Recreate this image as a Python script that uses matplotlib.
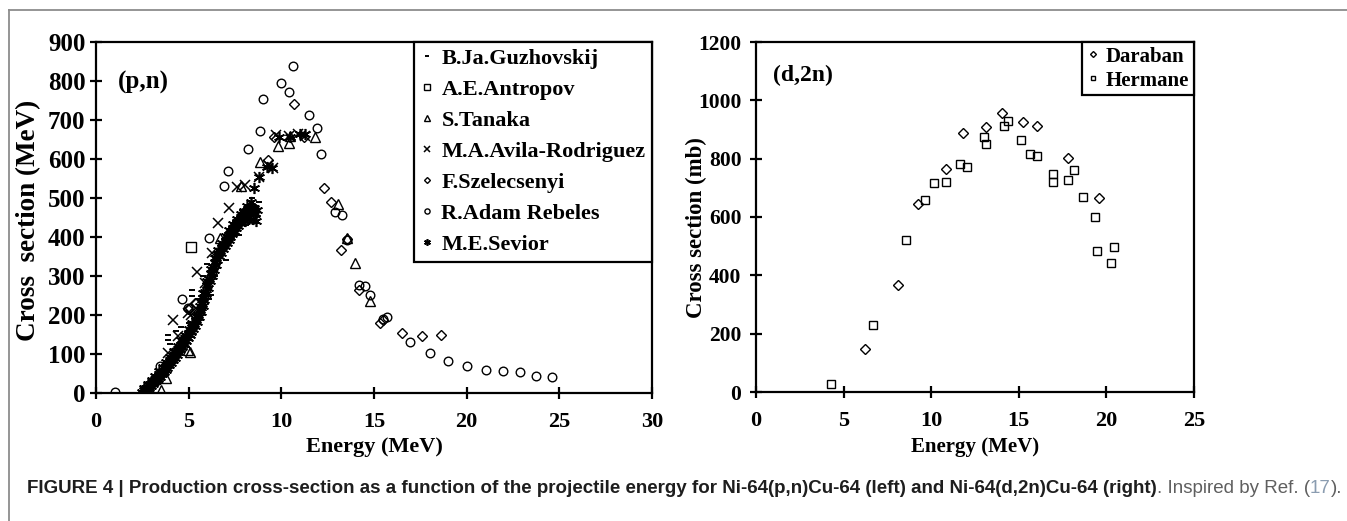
import matplotlib
matplotlib.use("Agg")
import matplotlib.pyplot as plt
from matplotlib import font_manager
from matplotlib.lines import Line2D

# ---------------- data: left panel, Ni-64(p,n)Cu-64 ----------------
guzhovskij_E = [3.2, 3.5, 3.9, 3.9, 4.0, 4.3, 4.6, 5.0, 5.2, 5.2, 5.5, 5.8, 6.0, 6.1, 6.2, 6.4,
                6.6, 6.8, 7.0, 7.2, 7.5, 7.7, 7.9, 8.1, 8.2, 8.4, 8.6, 8.8]
guzhovskij_S = [20, 45, 150, 137, 125, 160, 170, 180, 265, 250, 240, 300, 330, 240, 252, 300,
                350, 385, 340, 420, 440, 405, 470, 430, 445, 500, 435, 490]

antropov_E = [5.15]
antropov_S = [375]

tanaka_E = [3.5, 3.8, 4.97, 5.07, 6.7, 7.8, 8.2, 8.85, 9.8, 10.4, 10.45, 11.8, 13.05, 13.55, 14.0, 14.8]
tanaka_S = [8, 38, 110, 105, 397, 530, 451, 592, 634, 641, 660, 657, 485, 398, 333, 236]

avila_E = [3.9, 4.15, 4.45, 4.95, 5.15, 5.45, 5.9, 6.25, 6.6, 7.2, 7.6, 8.05, 8.8, 9.3, 9.55, 9.7,
           10.4, 10.9, 11.3]
avila_S = [102, 187, 145, 205, 200, 310, 281, 359, 437, 474, 529, 533, 555, 585, 576, 662,
           660, 665, 660]

szelecsenyi_E = [4.97, 5.07, 5.35, 5.4, 9.3, 9.6, 10.7, 11.2, 12.3, 12.7, 13.2, 13.55, 14.2, 15.3,
                 15.5, 16.5, 17.6, 18.6]
szelecsenyi_S = [215, 218, 230, 231, 597, 657, 741, 657, 525, 490, 366, 395, 264, 180,
                 187, 153, 146, 150]

rebeles_E = [1.0, 3.45, 4.65, 4.95, 6.1, 6.9, 7.1, 8.2, 8.85, 9.0, 10.0, 10.4, 10.65, 11.5, 11.9,
             12.15, 12.9, 13.3, 13.55, 14.2, 14.5, 14.8, 15.5, 15.7, 16.95, 18.0, 19.0, 20.0,
             21.05, 21.95, 22.9, 23.75, 24.6]
rebeles_S = [2, 69, 241, 218, 398, 530, 570, 626, 671, 753, 794, 772, 838, 713, 679,
             612, 464, 456, 392, 277, 274, 251, 189, 195, 131, 102, 82, 69,
             59, 57, 53, 44, 40]

sevior_E = [2.5, 2.55, 2.6, 2.65, 2.7, 2.75, 2.8, 2.85, 2.9, 2.95, 3.0, 3.05, 3.1, 3.15, 3.2,
            3.25, 3.3, 3.35, 3.4, 3.45, 3.5, 3.55, 3.6, 3.65, 3.7, 3.75, 3.8, 3.85, 3.9, 3.95,
            4.0, 4.05, 4.1, 4.15, 4.2, 4.25, 4.3, 4.35, 4.4, 4.45, 4.5, 4.55, 4.6, 4.65, 4.7,
            4.75, 4.8, 4.85, 4.9, 4.95, 5.0, 5.05, 5.1, 5.15, 5.2, 5.25, 5.3, 5.35, 5.4, 5.45,
            5.5, 5.55, 5.6, 5.65, 5.7, 5.75, 5.8, 5.85, 5.9, 5.95, 6.0, 6.05, 6.1, 6.15, 6.2,
            6.25, 6.3, 6.35, 6.4, 6.45, 6.5, 6.55, 6.6, 6.65, 6.7, 6.75, 6.8, 6.85, 6.9, 6.95,
            7.0, 7.05, 7.1, 7.15, 7.2, 7.25, 7.3, 7.35, 7.4, 7.45, 7.5, 7.55, 7.6, 7.65, 7.7,
            7.75, 7.8, 7.85, 7.9, 7.95, 8.0, 8.05, 8.1, 8.15, 8.2, 8.25, 8.3, 8.35, 8.4, 8.45,
            8.5, 8.55, 8.6, 8.65, 8.7,
            2.6, 2.8, 3.0, 3.2, 3.4, 3.6, 3.8, 4.0, 4.2, 4.4, 4.6, 4.8, 5.0, 5.2, 5.4, 5.6,
            5.8, 6.0, 6.2, 6.4, 6.6, 6.8, 7.0, 7.2, 7.4, 7.6, 7.8, 8.0, 8.2, 8.4, 8.6,
            8.5, 8.8, 9.2, 9.5, 9.9, 10.45, 11.0, 11.3]
sevior_S = [2, 0, 8, 4, 12, 9, 16, 13, 22, 18, 26, 22, 30, 27, 35,
            31, 40, 37, 46, 42, 52, 48, 57, 54, 63, 59, 69, 65, 75, 71,
            81, 77, 88, 84, 95, 91, 102, 98, 109, 105, 116, 112, 123, 119, 130,
            126, 137, 133, 144, 140, 152, 148, 160, 156, 168, 164, 177, 173, 187, 183,
            199, 194, 213, 207, 228, 222, 244, 238, 260, 254, 276, 270, 292, 286, 307,
            301, 322, 316, 335, 329, 347, 341, 357, 351, 365, 360, 374, 368, 382, 377,
            390, 385, 398, 393, 406, 400, 413, 408, 420, 415, 427, 422, 434, 429, 442,
            437, 449, 444, 455, 450, 460, 441, 464, 480, 467, 452, 470, 490, 472, 445,
            468, 475, 458, 440, 470,
            14, 24, 34, 43, 56, 66, 80, 92, 107, 121, 135, 149, 164, 180, 198, 222,
            256, 288, 318, 345, 366, 385, 402, 418, 433, 447, 459, 466, 471, 474, 462,
            525, 554, 580, 577, 657, 657, 664, 664]

# ---------------- data: right panel, Ni-64(d,2n)Cu-64 ----------------
daraban_E = [6.22, 8.1, 9.25, 10.85, 11.8, 13.1, 14.05, 15.25, 16.05, 17.8, 19.6]
daraban_S = [147, 367, 645, 764, 887, 908, 958, 926, 912, 802, 666]

hermane_E = [4.27, 6.68, 8.55, 9.66, 10.16, 10.86, 11.65, 12.03, 13.04, 13.15, 14.14, 14.37,
             15.15, 15.65, 16.05, 16.98, 16.98, 17.83, 18.14, 18.66, 19.35, 19.45, 20.27, 20.45]
hermane_S = [28, 230, 521, 658, 716, 720, 782, 771, 874, 850, 912, 928,
             864, 817, 808, 747, 720, 726, 761, 668, 601, 482, 441, 496]

left_xticks = [0, 5, 10, 15, 20, 25, 30]
left_yticks = [0, 100, 200, 300, 400, 500, 600, 700, 800, 900]
right_xticks = [0, 5, 10, 15, 20, 25]
right_yticks = [0, 200, 400, 600, 800, 1000, 1200]

# ---------------- figure ----------------
W, H = 1347, 521
fig = plt.figure(figsize=(W / 100, H / 100), dpi=100)
fig.patch.set_facecolor("white")

SERIF = "Liberation Serif"


def px_axes(x0, x1, y_top, y_bot):
    return fig.add_axes([x0 / W, 1 - y_bot / H, (x1 - x0) / W, (y_bot - y_top) / H])


axL = px_axes(96, 652, 42, 393)
axR = px_axes(756, 1194, 42, 392)

for ax in (axL, axR):
    for sp in ax.spines.values():
        sp.set_linewidth(1.6)
        sp.set_color("black")
    ax.tick_params(direction="inout", length=9, width=1.6, colors="black")

mk = dict(linestyle="none", markerfacecolor="none", markeredgecolor="black", color="black")

axL.plot(guzhovskij_E, guzhovskij_S, marker="_", markersize=4.5, markeredgewidth=1.4,
         label="B.Ja.Guzhovskij", **mk)
axL.plot(antropov_E, antropov_S, marker="s", markersize=6.5, markeredgewidth=1.0,
         label="A.E.Antropov", **mk)
axL.plot(tanaka_E, tanaka_S, marker="^", markersize=6.5, markeredgewidth=1.0,
         label="S.Tanaka", **mk)
axL.plot(avila_E, avila_S, marker="x", markersize=7.5, markeredgewidth=1.1,
         label="M.A.Avila-Rodriguez", **mk)
axL.plot(szelecsenyi_E, szelecsenyi_S, marker="D", markersize=5, markeredgewidth=1.0,
         label="F.Szelecsenyi", **mk)
axL.plot(rebeles_E, rebeles_S, marker="o", markersize=6.2, markeredgewidth=1.0,
         label="R.Adam Rebeles", **mk)
axL.plot(sevior_E, sevior_S, marker=(6, 2, 0), markersize=8, markeredgewidth=1.2,
         label="M.E.Sevior", **mk)

axR.plot(daraban_E, daraban_S, marker="D", markersize=5, markeredgewidth=1.0,
         label="Daraban", **mk)
axR.plot(hermane_E, hermane_S, marker="s", markersize=6, markeredgewidth=1.0,
         label="Hermane", **mk)

# ---- left axis formatting ----
axL.set_xlim(0, 30)
axL.set_ylim(0, 900)
axL.set_xticks(left_xticks)
axL.set_yticks(left_yticks)
axL.set_xticklabels([str(v) for v in left_xticks], fontfamily=SERIF, fontweight="bold", fontsize=16)
axL.set_yticklabels([str(v) for v in left_yticks], fontfamily=SERIF, fontweight="bold", fontsize=18)
axL.tick_params(axis="x", pad=9)
axL.tick_params(axis="y", pad=3)
axL.set_xlabel("Energy (MeV)", fontfamily=SERIF, fontweight="bold", fontsize=16, va="center")
axL.xaxis.set_label_coords(0.5, -0.154)
axL.set_ylabel("Cross  section (MeV)", fontfamily=SERIF, fontweight="bold", fontsize=19.5, va="center")
axL.yaxis.set_label_coords(-0.122, 0.493)
axL.text(0.085, 0.886, "(p,n)", transform=axL.transAxes, ha="center", va="center",
         fontfamily=SERIF, fontweight="bold", fontsize=18)

legL = axL.legend(loc="upper right", bbox_to_anchor=(1.0, 1.0), borderaxespad=0.0,
                  prop=font_manager.FontProperties(family=SERIF, weight="bold", size=16),
                  markerscale=0.6, handlelength=0.6, handletextpad=0.35, labelspacing=0.47,
                  borderpad=0.3, fancybox=False, framealpha=1.0, edgecolor="black")
legL.get_frame().set_linewidth(1.6)

# ---- right axis formatting ----
axR.set_xlim(0, 25)
axR.set_ylim(0, 1200)
axR.set_xticks(right_xticks)
axR.set_yticks(right_yticks)
axR.set_xticklabels([str(v) for v in right_xticks], fontfamily=SERIF, fontweight="bold", fontsize=16)
axR.set_yticklabels([str(v) for v in right_yticks], fontfamily=SERIF, fontweight="bold", fontsize=15.5)
axR.tick_params(axis="x", pad=9)
axR.tick_params(axis="y", pad=6)
axR.set_xlabel("Energy (MeV)", fontfamily=SERIF, fontweight="bold", fontsize=15, va="center")
axR.xaxis.set_label_coords(0.5, -0.157)
axR.set_ylabel("Cross section (mb)", fontfamily=SERIF, fontweight="bold", fontsize=16.5, va="center")
axR.yaxis.set_label_coords(-0.135, 0.47)
axR.text(0.107, 0.903, "(d,2n)", transform=axR.transAxes, ha="center", va="center",
         fontfamily=SERIF, fontweight="bold", fontsize=17)

legR = axR.legend(loc="upper right", bbox_to_anchor=(1.0, 1.0), borderaxespad=0.0,
                  prop=font_manager.FontProperties(family=SERIF, weight="bold", size=15),
                  markerscale=0.6, handlelength=0.6, handletextpad=0.35, labelspacing=0.2,
                  borderpad=0.22, fancybox=False, framealpha=1.0, edgecolor="black")
legR.get_frame().set_linewidth(1.6)

# ---- outer frame (top and left rules) ----
fig.add_artist(Line2D([9 / W, 1.0], [1 - 10 / H, 1 - 10 / H], transform=fig.transFigure,
                      color="#8c8c8c", linewidth=1.3))
fig.add_artist(Line2D([9 / W, 9 / W], [1 - 10 / H, 0.0], transform=fig.transFigure,
                      color="#8c8c8c", linewidth=1.3))

# ---- caption ----
available = {f.name for f in font_manager.fontManager.ttflist}
cap_family = "Liberation Sans Narrow" if "Liberation Sans Narrow" in available else "Liberation Sans"

caption_parts = [
    ("FIGURE 4 | Production cross-section as a function of the projectile energy for "
     "Ni-64(p,n)Cu-64 (left) and Ni-64(d,2n)Cu-64 (right)", "bold", "#1e1e1e"),
    (". Inspired by Ref. (", "normal", "#5f5f5f"),
    ("17", "normal", "#8a9cb0"),
    (").", "normal", "#5f5f5f"),
]

renderer = fig.canvas.get_renderer()
target_w = 1338 - 27


def caption_width(fs):
    total = 0.0
    for txt, wt, col in caption_parts:
        t = fig.text(0, 0, txt, fontsize=fs, fontweight=wt, fontfamily=cap_family)
        total += t.get_window_extent(renderer).width
        t.remove()
    return total


fs = 13.0
w0 = caption_width(fs)
fs = fs * target_w / w0

xcur = 27.0
ybase = 1 - 493 / H
for txt, wt, col in caption_parts:
    t = fig.text(xcur / W, ybase, txt, fontsize=fs, fontweight=wt, fontfamily=cap_family,
                 color=col, ha="left", va="baseline")
    xcur += t.get_window_extent(renderer).width

fig.savefig("out.png", dpi=100, facecolor="white")
